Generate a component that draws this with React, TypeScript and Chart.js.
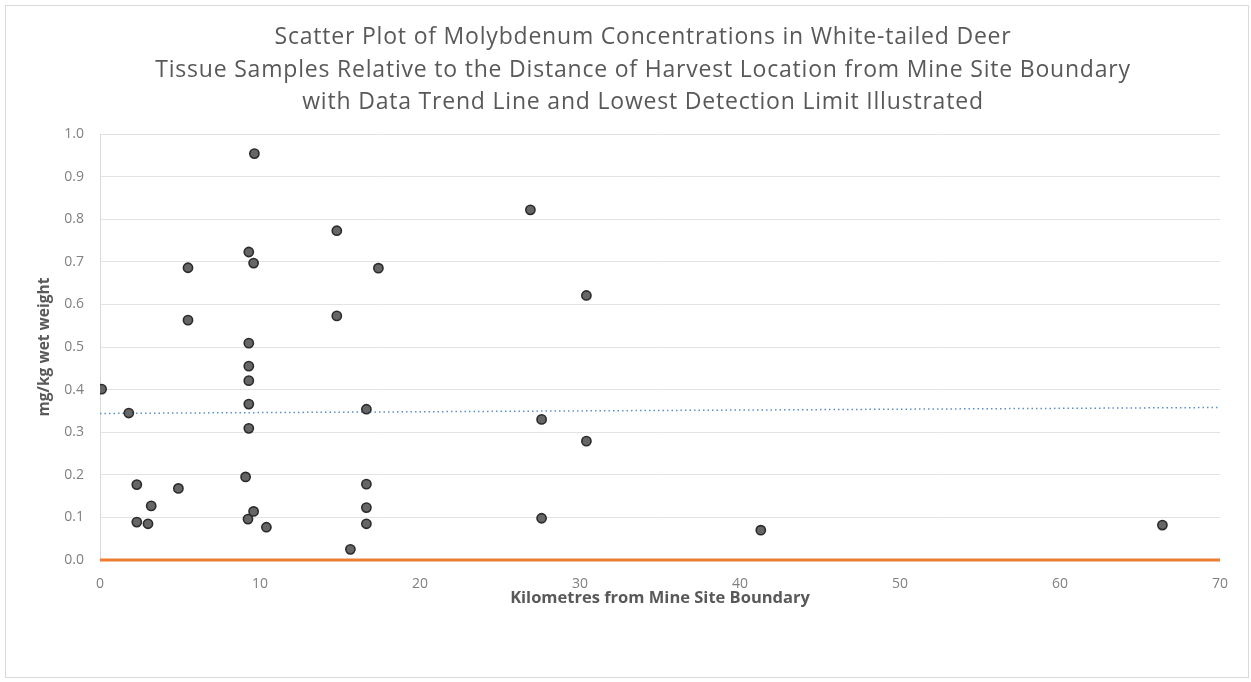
import React, { useEffect, useRef } from "react";
import { Chart, registerables } from "chart.js";

Chart.register(...registerables);

// ---------- Data ----------
const titleLines = [
  "Scatter Plot of Molybdenum Concentrations in White-tailed Deer",
  "Tissue Samples Relative to the Distance of Harvest Location from Mine Site Boundary",
  "with Data Trend Line and Lowest Detection Limit Illustrated",
];
const yAxisTitle = "mg/kg wet weight";
const xAxisTitle = "Kilometres from Mine Site Boundary";

const distanceKm = [
  0.1, 1.8, 2.3, 2.3, 3.0, 3.2, 4.9, 5.5, 5.5,
  9.65, 9.3, 9.6, 9.3, 9.3, 9.3, 9.3, 9.3, 9.1, 9.25, 9.6, 10.4,
  14.8, 14.8, 15.65, 16.65, 16.65, 16.65, 16.65, 17.4,
  26.9, 27.6, 27.6, 30.4, 30.4, 41.3, 66.4,
];
const molybdenumMgKg = [
  0.401, 0.345, 0.177, 0.089, 0.085, 0.127, 0.168, 0.686, 0.563,
  0.954, 0.723, 0.697, 0.509, 0.455, 0.421, 0.366, 0.309, 0.195, 0.096, 0.114, 0.077,
  0.773, 0.573, 0.025, 0.354, 0.178, 0.123, 0.085, 0.685,
  0.822, 0.330, 0.098, 0.621, 0.279, 0.070, 0.082,
];

const trendX = [0, 70];
const trendY = [0.344, 0.358];
const detectionX = [0, 70];
const detectionY = [0, 0];

const xMin = 0;
const xMax = 70;
const xStep = 10;
const yMin = 0;
const yMax = 1;
const yStep = 0.1;

const FONT = "'Open Sans', 'DejaVu Sans', sans-serif";

const multiTitlePlugin = {
  id: "multiTitle",
  afterDraw(chart: any) {
    const ctx = chart.ctx as any;
    ctx.save();
    ctx.font = `23px ${FONT}`;
    try {
      ctx.letterSpacing = "0.8px";
    } catch (e) {}
    ctx.fillStyle = "#595959";
    ctx.textAlign = "center";
    ctx.textBaseline = "alphabetic";
    titleLines.forEach((t: string, i: number) => ctx.fillText(t, 643, 44 + i * 32.7));
    ctx.restore();
  },
};

export default function App() {
  const ref = useRef<HTMLCanvasElement | null>(null);

  useEffect(() => {
    if (!ref.current) return;
    const points = distanceKm.map((x, i) => ({ x, y: molybdenumMgKg[i] }));
    const trend = trendX.map((x, i) => ({ x, y: trendY[i] }));
    const detection = detectionX.map((x, i) => ({ x, y: detectionY[i] }));

    const chart = new Chart(ref.current, {
      type: "scatter",
      data: {
        datasets: [
          {
            label: "Molybdenum",
            data: points,
            pointRadius: 4.6,
            pointBorderWidth: 1.6,
            backgroundColor: "#666666",
            borderColor: "#2b2b2b",
            showLine: false,
          },
          {
            label: "Trend",
            data: trend,
            showLine: true,
            pointRadius: 0,
            borderColor: "#5b8fc9",
            borderWidth: 1.5,
            borderDash: [1.5, 3],
          },
          {
            label: "Lowest Detection Limit",
            data: detection,
            showLine: true,
            pointRadius: 0,
            borderColor: "#ED7D31",
            borderWidth: 3,
            clip: 5,
          },
        ],
      },
      options: {
        animation: false,
        responsive: false,
        devicePixelRatio: 1,
        layout: { padding: { left: 0, right: 31, top: 134, bottom: 72 } },
        plugins: {
          legend: { display: false },
          tooltip: { enabled: false },
          title: { display: false },
        },
        scales: {
          x: {
            type: "linear",
            min: xMin,
            max: xMax,
            ticks: {
              stepSize: xStep,
              padding: 16,
              color: "#808080",
              font: { family: FONT, size: 14 },
            },
            grid: { display: false, drawTicks: false },
            border: { display: false },
            title: {
              display: true,
              text: xAxisTitle,
              color: "#595959",
              font: { family: FONT, size: 16.5, weight: "bold" },
              padding: { top: 0, bottom: 2 },
            },
            afterFit: (scale: any) => {
              scale.height = 50;
            },
          },
          y: {
            type: "linear",
            min: yMin,
            max: yMax,
            ticks: {
              stepSize: yStep,
              padding: 16,
              color: "#808080",
              font: { family: FONT, size: 14 },
              callback: (v: any) => Number(v).toFixed(1),
            },
            grid: { color: "#e3e3e3", lineWidth: 1, drawTicks: false },
            border: { display: true, color: "#d9d9d9" },
            title: {
              display: true,
              text: yAxisTitle,
              color: "#595959",
              font: { family: FONT, size: 15.5, weight: "bold" },
              padding: { top: 35.5, bottom: 0 },
            },
            afterFit: (scale: any) => {
              scale.width = 100;
            },
          },
        },
      },
      plugins: [multiTitlePlugin],
    });
    return () => chart.destroy();
  }, []);

  return (
    <div style={{ position: "fixed", left: 0, top: 0, width: 1251, height: 682, background: "#fff" }}>
      <div
        style={{
          position: "absolute",
          left: 5,
          top: 5,
          width: 1244,
          height: 673,
          border: "1px solid #d9d9d9",
          boxSizing: "border-box",
        }}
      />
      <canvas ref={ref} width={1251} height={682} style={{ position: "absolute", left: 0, top: 0 }} />
    </div>
  );
}
